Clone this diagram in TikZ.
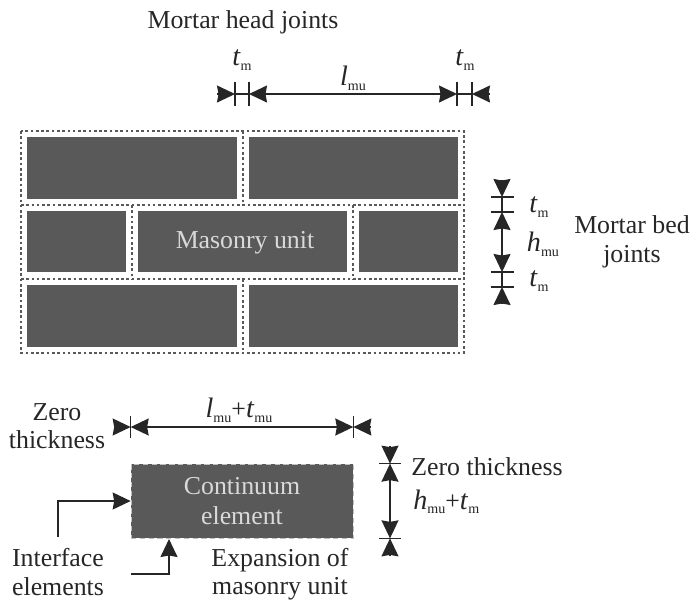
\documentclass[tikz,border=0pt]{standalone}
\usepackage{fontspec}
\setmainfont{Liberation Serif}
\usetikzlibrary{arrows.meta}
\newcommand{\symsub}[2]{\textit{\fontsize{16}{16}\selectfont #1}\raisebox{-2.8pt}{\fontsize{8}{8}\selectfont #2}}
\definecolor{brickgray}{HTML}{595959}
\definecolor{inkgray}{HTML}{262626}
\tikzset{
  brick/.style={fill=brickgray},
  joint/.style={draw=brickgray, line width=1.6pt, dash pattern=on 1.5pt off 1.5pt},
  dimline/.style={draw=inkgray, line width=0.8pt},
  dimtip/.style={dimline, -{Stealth[length=0.36cm,width=0.34cm,inset=0.03cm]}},
  dimtips/.style={dimline, {Stealth[length=0.36cm,width=0.34cm,inset=0.03cm]}-{Stealth[length=0.36cm,width=0.34cm,inset=0.03cm]}},
  txt/.style={inner sep=0pt, text=inkgray, align=center, font=\fontsize{14.7}{16.2}\selectfont},
}
\begin{document}
\begin{tikzpicture}[x=0.02cm,y=-0.02cm]
  \useasboundingbox (0,0) rectangle (690,600);
  % wall
  \foreach \xa/\ya/\xb/\yb in {27/137/237/199, 249/137/458/199,
      27/211/126/272, 138/211/347/272, 359/211/458/272,
      27/285/237/347, 249/285/458/347}
    \fill[brick] (\xa,\ya) rectangle (\xb,\yb);
  \draw[joint] (21,131) rectangle (464,353);
  \draw[joint] (21,205) -- (464,205);
  \draw[joint] (21,279) -- (464,279);
  \foreach \xa/\ya/\yb in {243/131/205, 132/205/279, 353/205/279, 243/279/353}
    \draw[joint] (\xa,\ya) -- (\xa,\yb);
  \node[txt, text=white!85!black] (unit) at (245,243) {Masonry unit};
  \node[txt, anchor=base] (headjoints) at (243,28) {Mortar head joints};
  \node[txt] (bedjoints) at (632,242) {Mortar bed\\joints};

  % head joint dimensions
  \coordinate (h1) at (235,94);
  \coordinate (h2) at (249,94);
  \coordinate (h3) at (457,94);
  \coordinate (h4) at (472,94);
  \coordinate (h0) at (217,94);
  \coordinate (h5) at (490,94);
  \foreach \p in {h1,h2,h3,h4}
    \draw[dimline] ([yshift=0.24cm]\p) -- ([yshift=-0.24cm]\p);
  \draw[dimline] (h1) -- (h2);
  \draw[dimline] (h3) -- (h4);
  \draw[dimtip] (h0) -- (h1);
  \draw[dimtip] (h5) -- (h4);
  \draw[dimtips] (h2) -- (h3);
  \node[txt] (ta) at (242,60) {\symsub{t}{m}};
  \node[txt] (lmu) at (353,78) {\symsub{l}{mu}};
  \node[txt] (tb) at (465,60) {\symsub{t}{m}};

  % bed joint dimensions
  \coordinate (v0) at (502,180);
  \coordinate (v1) at (502,197);
  \coordinate (v2) at (502,212);
  \coordinate (v3) at (502,272);
  \coordinate (v4) at (502,287);
  \coordinate (v5) at (502,304);
  \foreach \p in {v1,v2,v3,v4}
    \draw[dimline] ([xshift=-0.23cm]\p) -- ([xshift=0.23cm]\p);
  \draw[dimline] (v1) -- (v2);
  \draw[dimline] (v3) -- (v4);
  \draw[dimtip] (v0) -- (v1);
  \draw[dimtip] (v5) -- (v4);
  \draw[dimtips] (v2) -- (v3);
  \node[txt] (tc) at (539,207) {\symsub{t}{m}};
  \node[txt] (hmu) at (543,244) {\symsub{h}{mu}};
  \node[txt] (td) at (539,281) {\symsub{t}{m}};

  % continuum element
  \node[txt, text=white!85!black, fill=brickgray, draw=white!75!black, densely dashed,
        minimum width=4.44cm, minimum height=1.48cm] (element) at (242,501) {Continuum\\[1pt]element};

  % element dimensions
  \coordinate (w0) at (114,427);
  \coordinate (w1) at (element.west |- w0);
  \coordinate (w2) at (element.east |- w0);
  \coordinate (w3) at (371,427);
  \foreach \p in {w1,w2}
    \draw[dimline] ([yshift=0.22cm]\p) -- ([yshift=-0.22cm]\p);
  \draw[dimtip] (w0) -- (w1);
  \draw[dimtip] (w3) -- (w2);
  \draw[dimtips] (w1) -- (w2);
  \node[txt] (lt) at (239,410) {\symsub{l}{mu}+\symsub{t}{mu}};
  \node[txt] (zeroa) at (57,426) {Zero\\thickness};

  \coordinate (z0) at (390,446);
  \coordinate (z1) at (z0 |- element.north);
  \coordinate (z2) at (z0 |- element.south);
  \coordinate (z3) at (390,556);
  \foreach \p in {z1,z2}
    \draw[dimline] ([xshift=-0.22cm]\p) -- ([xshift=0.22cm]\p);
  \draw[dimtip] (z0) -- (z1);
  \draw[dimtip] (z3) -- (z2);
  \draw[dimtips] (z1) -- (z2);
  \node[txt, anchor=base west] (zerob) at (411,475) {Zero thickness};
  \node[txt, anchor=base west] (ht) at (413,509) {\symsub{h}{mu}+\symsub{t}{m}};

  % callouts
  \node[txt] (iface) at (58,572) {Interface\\elements};
  \node[txt] (expand) at (280,574) {Expansion of\\masonry unit};
  \coordinate (ifacefoot) at (58,537);
  \coordinate (expandfoot) at (131,574);
  \coordinate (expandtip) at (169,539);
  \draw[dimtip] (ifacefoot) |- (element.west);
  \draw[dimtip] (expandfoot) -| (expandtip);
\end{tikzpicture}
\end{document}
